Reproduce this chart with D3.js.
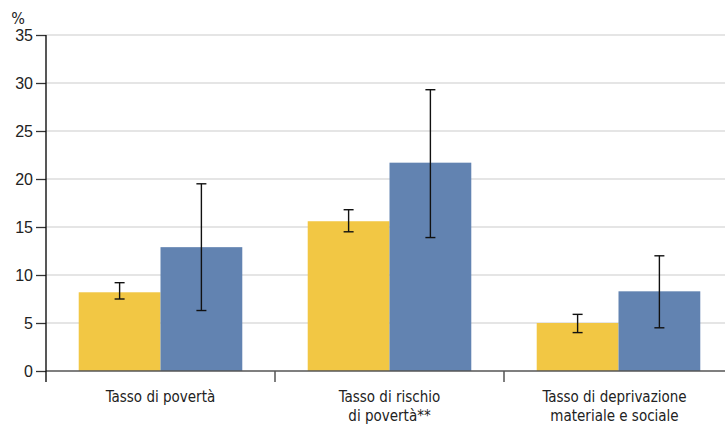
<!DOCTYPE html>
<html lang="it">
<head>
<meta charset="UTF-8">
<title>Tassi</title>
<style>
  html, body { margin: 0; padding: 0; background: #fff; }
  svg { display: block; font-family: "Liberation Sans Narrow", "DejaVu Sans Condensed", "Roboto", sans-serif; }
</style>
</head>
<body>
<svg id="svg" width="725" height="428"></svg>
<script src="https://d3js.org/d3.v7.min.js"></script>
<script>
  // Data
  const categories = [
    ["Tasso di povertà"],
    ["Tasso di rischio", "di povertà**"],
    ["Tasso di deprivazione", "materiale e sociale"]
  ];
  const values1 = [8.2, 15.6, 5.0];
  const low1 = [7.5, 14.5, 4.0];
  const high1 = [9.2, 16.8, 5.9];
  const values2 = [12.9, 21.7, 8.3];
  const low2 = [6.3, 13.9, 4.5];
  const high2 = [19.5, 29.3, 12.0];
  const yTicks = [0, 5, 10, 15, 20, 25, 30, 35];
  const colors = ["#f2c744", "#6283b1"];

  const margin = { top: 35, left: 46, bottom: 57 };
  const svgW = 725, svgH = 428;
  const plotRight = 733; // last band runs past the visible edge
  const zeroY = svgH - margin.bottom;

  const rows = categories.map((c, i) => ({
    key: i,
    label: c,
    bars: [
      { s: 0, v: values1[i], lo: low1[i], hi: high1[i] },
      { s: 1, v: values2[i], lo: low2[i], hi: high2[i] }
    ]
  }));

  const x = d3.scaleBand()
    .domain(rows.map(d => d.key))
    .range([margin.left, plotRight])
    .padding(0);

  const xInner = d3.scaleBand()
    .domain([0, 1])
    .range([0, x.bandwidth()])
    .paddingInner(0)
    .paddingOuter(0.4);

  const y = d3.scaleLinear()
    .domain([0, 35])
    .range([zeroY, margin.top]);

  const svg = d3.select("#svg");

  // gridlines
  svg.append("g")
    .selectAll("line")
    .data(yTicks.filter(t => t > 0))
    .join("line")
    .attr("x1", margin.left)
    .attr("x2", svgW)
    .attr("y1", d => y(d))
    .attr("y2", d => y(d))
    .attr("stroke", "#dcdcdc")
    .attr("stroke-width", 1.5);

  // bars
  const groups = svg.append("g")
    .selectAll("g")
    .data(rows)
    .join("g")
    .attr("transform", d => `translate(${x(d.key)},0)`);

  groups.selectAll("rect")
    .data(d => d.bars)
    .join("rect")
    .attr("x", d => xInner(d.s))
    .attr("width", xInner.bandwidth())
    .attr("y", d => y(d.v))
    .attr("height", d => y(0) - y(d.v))
    .attr("fill", d => colors[d.s]);

  // error bars
  const err = groups.selectAll("g.err")
    .data(d => d.bars)
    .join("g")
    .attr("class", "err")
    .attr("stroke", "#111")
    .attr("stroke-width", 1.4);

  const cx = d => xInner(d.s) + xInner.bandwidth() / 2;
  err.append("line")
    .attr("x1", cx).attr("x2", cx)
    .attr("y1", d => y(d.lo)).attr("y2", d => y(d.hi));
  err.append("line")
    .attr("x1", d => cx(d) - 5).attr("x2", d => cx(d) + 5)
    .attr("y1", d => y(d.hi)).attr("y2", d => y(d.hi));
  err.append("line")
    .attr("x1", d => cx(d) - 5).attr("x2", d => cx(d) + 5)
    .attr("y1", d => y(d.lo)).attr("y2", d => y(d.lo));

  // zero line
  svg.append("line")
    .attr("x1", margin.left)
    .attr("x2", svgW)
    .attr("y1", y(0))
    .attr("y2", y(0))
    .attr("stroke", "#555")
    .attr("stroke-width", 1.5);

  // category separators
  svg.append("g")
    .selectAll("line")
    .data(rows.slice(1))
    .join("line")
    .attr("x1", d => x(d.key))
    .attr("x2", d => x(d.key))
    .attr("y1", y(0))
    .attr("y2", y(0) + 11)
    .attr("stroke", "#555")
    .attr("stroke-width", 1.5);

  // y axis
  const leftAxis = d3.axisLeft(y)
    .tickValues(yTicks)
    .tickSize(10)
    .tickPadding(3);

  const yAxis = svg.append("g")
    .attr("transform", `translate(${margin.left},0)`)
    .call(leftAxis);
  yAxis.select(".domain").remove();
  yAxis.selectAll(".tick line").attr("stroke", "#333").attr("stroke-width", 1.3);
  yAxis.selectAll(".tick text")
    .attr("fill", "#222")
    .style("font-size", "16px")
    .style("font-family", "inherit");

  svg.append("line")
    .attr("x1", margin.left)
    .attr("x2", margin.left)
    .attr("y1", y(35))
    .attr("y2", y(0) + 11)
    .attr("stroke", "#111")
    .attr("stroke-width", 1.4);

  svg.append("text")
    .attr("x", 18)
    .attr("y", 24)
    .attr("text-anchor", "middle")
    .attr("fill", "#222")
    .style("font-size", "16px")
    .text("%");

  // category labels
  const labels = svg.append("g")
    .selectAll("text")
    .data(rows)
    .join("text")
    .attr("x", d => x(d.key) + x.bandwidth() / 2 + (d.key === 2 ? -4 : 0))
    .attr("y", y(0) + 31)
    .attr("text-anchor", "middle")
    .attr("fill", "#222")
    .style("font-size", "15px");

  labels.selectAll("tspan")
    .data(d => d.label)
    .join("tspan")
    .attr("x", function () { return d3.select(this.parentNode).attr("x"); })
    .attr("dy", (d, i) => i === 0 ? 0 : 19)
    .text(d => d);
</script>
</body>
</html>
